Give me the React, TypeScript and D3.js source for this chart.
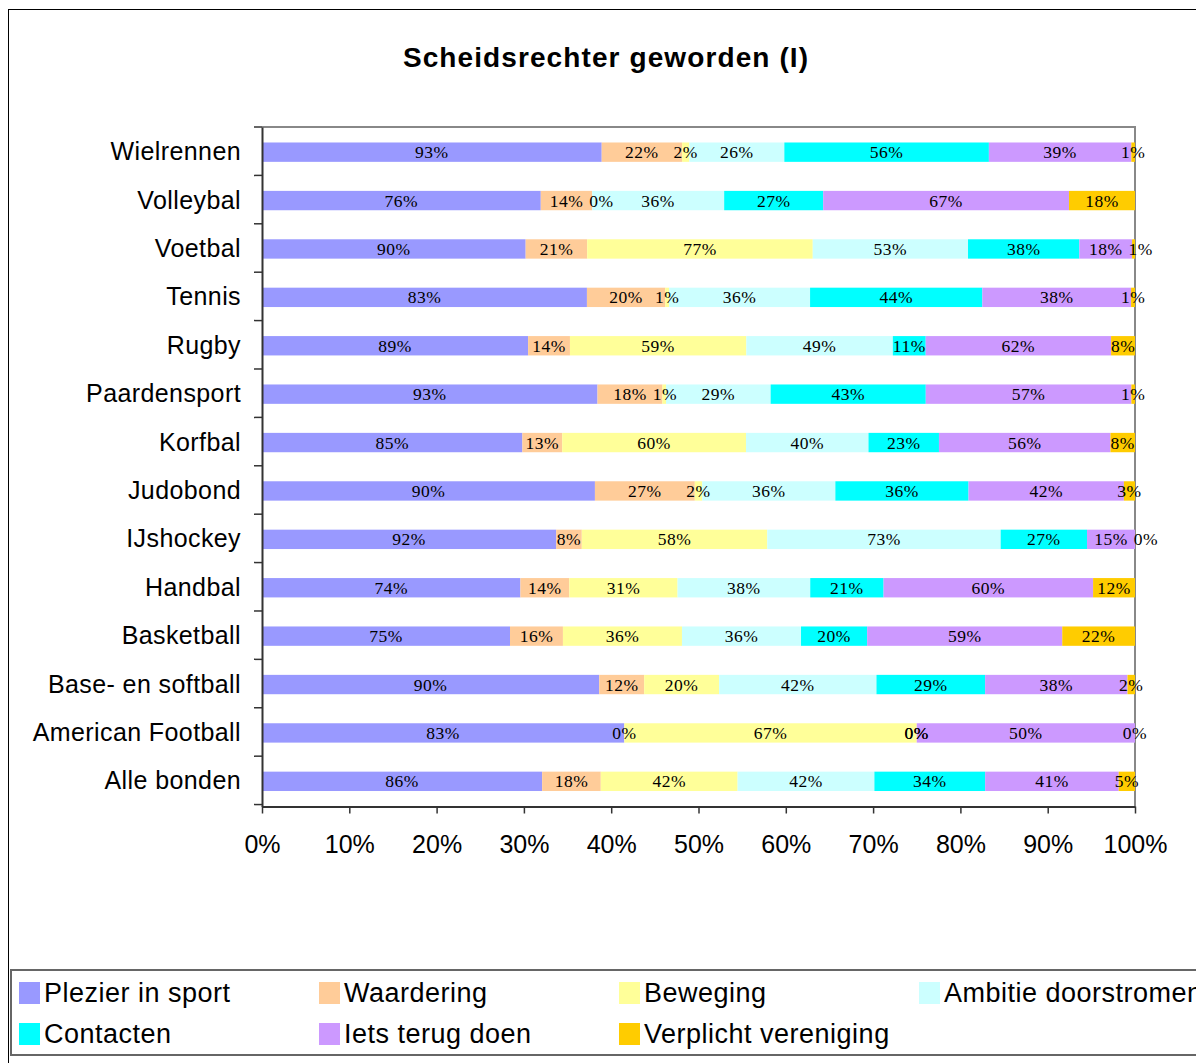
import * as d3 from 'd3';
import React, { useEffect, useRef } from 'react';

const categories = ['Wielrennen', 'Volleybal', 'Voetbal', 'Tennis', 'Rugby', 'Paardensport', 'Korfbal', 'Judobond', 'IJshockey', 'Handbal', 'Basketball', 'Base- en softball', 'American Football', 'Alle bonden'];
const seriesNames = ['Plezier in sport', 'Waardering', 'Beweging', 'Ambitie doorstromen', 'Contacten', 'Iets terug doen', 'Verplicht vereniging'];
const seriesColors = ['#9999FF', '#FFCC99', '#FFFF99', '#CCFFFF', '#00FFFF', '#CC99FF', '#FFCC00'];

// raw percentages per reason, one value per category (bars are normalised to 100%)
const plezier = [93, 76, 90, 83, 89, 93, 85, 90, 92, 74, 75, 90, 83, 86];
const waardering = [22, 14, 21, 20, 14, 18, 13, 27, 8, 14, 16, 12, 0, 18];
const beweging = [2, 0, 77, 1, 59, 1, 60, 2, 58, 31, 36, 20, 67, 42];
const ambitie = [26, 36, 53, 36, 49, 29, 40, 36, 73, 38, 36, 42, 0, 42];
const contacten = [56, 27, 38, 44, 11, 43, 23, 36, 27, 21, 20, 29, 0, 34];
const terugDoen = [39, 67, 18, 38, 62, 57, 56, 42, 15, 60, 59, 38, 50, 41];
const verplicht = [1, 18, 1, 1, 8, 1, 8, 3, 0, 12, 22, 2, 0, 5];

const xTicks = [0, 0.1, 0.2, 0.3, 0.4, 0.5, 0.6, 0.7, 0.8, 0.9, 1];

const seriesValues = [plezier, waardering, beweging, ambitie, contacten, terugDoen, verplicht];

const App = () => {
  const ref = useRef<SVGSVGElement>(null);

  useEffect(() => {
    const svg = d3.select(ref.current);
    svg.selectAll('*').remove();

    const left = 262;
    const right = 1135;
    const top = 127;
    const bottom = 806.5;

    // table for d3.stack
    const rows = categories.map((cat, i) => {
      const row: any = { category: cat };
      seriesNames.forEach((name, s) => { row[name] = seriesValues[s][i]; });
      return row;
    });
    const stacked = d3.stack().keys(seriesNames).offset(d3.stackOffsetExpand)(rows);

    const x = d3.scaleLinear().domain([0, 1]).range([left, right]);
    const y = d3.scaleBand().domain(categories).range([top, bottom]).paddingInner(0.6).paddingOuter(0.32);

    // outer chart border
    svg.append('rect')
      .attr('x', 8.5).attr('y', 9.5)
      .attr('width', 1300).attr('height', 1200)
      .attr('fill', 'none').attr('stroke', '#000').attr('stroke-width', 1);

    // title
    svg.append('text')
      .attr('x', 606).attr('y', 67)
      .attr('text-anchor', 'middle')
      .attr('font-family', 'Liberation Sans, Arial, sans-serif')
      .attr('font-weight', 'bold')
      .attr('font-size', 28)
      .attr('letter-spacing', 1.1)
      .text('Scheidsrechter geworden (I)');

    // plot area frame (top + right gray)
    svg.append('path')
      .attr('d', `M${left},${top}H${right}V${bottom}`)
      .attr('fill', 'none').attr('stroke', '#888').attr('stroke-width', 2);

    // bars
    const groups = svg.append('g').selectAll('g')
      .data(stacked)
      .join('g')
      .attr('fill', (d, i) => seriesColors[i]);
    groups.selectAll('rect')
      .data((d) => d)
      .join('rect')
      .attr('x', (d) => x(d[0]))
      .attr('y', (d: any) => y(d.data.category))
      .attr('width', (d) => x(d[1]) - x(d[0]))
      .attr('height', y.bandwidth());

    // data labels, nudged right when they would run into the previous one
    const labels = svg.append('g')
      .attr('font-family', 'Liberation Serif, Times New Roman, serif')
      .attr('font-size', 17.5)
      .attr('letter-spacing', 0.5)
      .attr('text-anchor', 'middle');
    categories.forEach((cat, i) => {
      let prevRight = -Infinity;
      let prevCx = -Infinity;
      stacked.forEach((layer, s) => {
        const d: any = layer[i];
        let cx = x((d[0] + d[1]) / 2);
        const t = labels.append('text')
          .attr('y', y(cat) + y.bandwidth() / 2)
          .attr('dy', '0.35em')
          .text(`${seriesValues[s][i]}%`);
        const w = (t.node() as SVGTextElement).getComputedTextLength();
        if (cx - w / 2 < prevRight + 6 && Math.abs(cx - prevCx) > 1) cx = prevRight + 6 + w / 2;
        t.attr('x', cx);
        prevRight = cx + w / 2;
        prevCx = cx;
      });
    });

    // y axis with ticks on band boundaries
    const step = y.step();
    const boundaries = d3.range(categories.length + 1).map((i) => top + i * step);
    svg.append('g').selectAll('line')
      .data(boundaries)
      .join('line')
      .attr('x1', left - 8).attr('x2', left)
      .attr('y1', (d) => d).attr('y2', (d) => d)
      .attr('stroke', '#333').attr('stroke-width', 1.5);
    svg.append('g')
      .attr('transform', `translate(${left}, 0)`)
      .call(d3.axisLeft(y).tickSize(0).tickPadding(21))
      .call((g) => g.select('.domain').attr('stroke', '#333').attr('stroke-width', 2))
      .call((g) => g.selectAll('text')
        .attr('font-family', 'Liberation Sans, Arial, sans-serif')
        .attr('font-size', 25)
        .attr('letter-spacing', 0.4)
        .attr('fill', '#000'));

    // x axis
    svg.append('g')
      .attr('transform', `translate(0, ${bottom})`)
      .call(d3.axisBottom(x).tickValues(xTicks).tickFormat(d3.format('.0%')).tickSize(7).tickSizeOuter(0).tickPadding(22))
      .call((g) => g.select('.domain').attr('stroke', '#333').attr('stroke-width', 2))
      .call((g) => g.selectAll('.tick line').attr('stroke', '#333').attr('stroke-width', 1.5))
      .call((g) => g.selectAll('text')
        .attr('font-family', 'Liberation Sans, Arial, sans-serif')
        .attr('font-size', 25)
        .attr('fill', '#000'));

    // legend
    const legend = svg.append('g');
    legend.append('rect')
      .attr('x', 11).attr('y', 970)
      .attr('width', 1300).attr('height', 85)
      .attr('fill', '#fff').attr('stroke', '#666').attr('stroke-width', 2);
    seriesNames.forEach((name, i) => {
      const col = i % 4;
      const row = Math.floor(i / 4);
      const cx = 19 + col * 300;
      const cy = 993 + row * 41;
      legend.append('rect')
        .attr('x', cx).attr('y', cy - 11)
        .attr('width', 21).attr('height', 22)
        .attr('fill', seriesColors[i]);
      legend.append('text')
        .attr('x', cx + 25).attr('y', cy + 9)
        .attr('font-family', 'Liberation Sans, Arial, sans-serif')
        .attr('font-size', 27)
        .attr('letter-spacing', 0.5)
        .text(name);
    });
  }, []);

  return (
    <svg ref={ref} width={1196} height={1063} style={{ position: 'absolute', left: 0, top: 0, background: '#fff' }}></svg>
  );
};

export default App;
